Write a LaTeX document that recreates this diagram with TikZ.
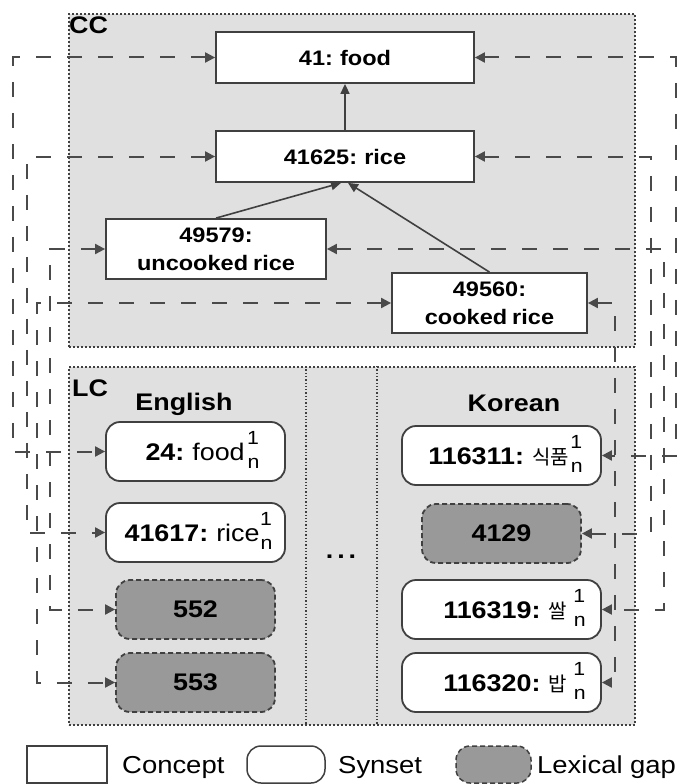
\documentclass[tikz,border=0pt]{standalone}
\usepackage{fontspec}
\setmainfont{Liberation Sans}[FakeStretch=1.12]
\newfontfamily\kofont{Noto Sans CJK KR}
\usetikzlibrary{arrows.meta}
\definecolor{bggray}{HTML}{E0E0E0}
\definecolor{gapgray}{HTML}{999999}
\definecolor{edgegray}{HTML}{404040}
\definecolor{mapgray}{HTML}{4A4A4A}
\newcommand{\sn}{\raisebox{-8pt}{\fontsize{19}{19}\selectfont n}\llap{\raisebox{16pt}{\fontsize{19}{19}\selectfont 1\kern0.5pt}}}
\newcommand{\ko}[1]{{\kofont\fontsize{20}{20}\selectfont #1}}
\newcommand{\spA}{\spaceskip=5pt plus 1pt minus 1pt\relax}
\newcommand{\spB}{\spaceskip=5.5pt plus 1pt minus 1pt\relax}
\begin{document}
\begin{tikzpicture}[x=1pt,y=-1pt,
  region/.style={draw=edgegray, fill=bggray, line width=1.6pt, dash pattern=on 2pt off 2pt, inner sep=0pt, anchor=north west},
  divider/.style={draw=edgegray, line width=1.3pt, dash pattern=on 1.3pt off 2pt},
  title/.style={font=\fontsize{24}{24}\selectfont\bfseries, inner sep=0pt},
  concept/.style={draw=edgegray, fill=white, line width=1.8pt, inner sep=0pt, align=center, font=\fontsize{21}{28}\selectfont\bfseries\spA},
  synset/.style={draw=edgegray, fill=white, line width=1.8pt, rounded corners=14pt, inner sep=0pt, text height=26pt, text depth=9pt, font=\fontsize{24}{24}\selectfont\spB},
  gap/.style={draw=edgegray, fill=gapgray, line width=1.8pt, dash pattern=on 5pt off 3pt, rounded corners=14pt, inner sep=0pt, font=\fontsize{24}{24}\selectfont\bfseries},
  legend/.style={font=\fontsize{24.5}{24.5}\selectfont, inner sep=0pt, anchor=base west},
  isa/.style={draw=edgegray, line width=1.6pt, -{Triangle[length=10pt,width=9pt]}},
  map/.style={draw=mapgray, line width=2pt, dash pattern=on 15pt off 16pt, {Triangle[length=10pt,width=10pt]}-{Triangle[length=10pt,width=10pt]}},
]
\useasboundingbox (0,0) rectangle (678,784);

% regions
\node[region, minimum width=566pt, minimum height=333pt] (cc) at (68,13) {};
\node[region, minimum width=566pt, minimum height=358pt] (lc) at (68,366) {};
\coordinate (d1) at (306,366);
\coordinate (d2) at (377,366);
\draw[divider] (d1) -- (d1 |- lc.south);
\draw[divider] (d2) -- (d2 |- lc.south);
\node[title, anchor=north west] (cclab) at (69,17) {CC};
\node[title, anchor=north west] (lclab) at (72,380) {LC};
\node[title, anchor=base] (eng) at (184,410) {English};
\node[title, anchor=base] (kor) at (514,411) {Korean};
\node[title, anchor=base] (dots) at (341,558) {.\kern4pt.\kern4pt.};

% concepts
\node[concept, minimum width=258pt, minimum height=51pt] (food) at (345,57.5) {41: food};
\node[concept, minimum width=258pt, minimum height=51pt] (rice) at (345,156.5) {41625: rice};
\node[concept, minimum width=220pt, minimum height=60pt] (unc) at (216,249) {49579:\\uncooked rice};
\node[concept, minimum width=195pt, minimum height=60pt] (cook) at (489.5,303) {49560:\\cooked rice};

\draw[isa] (rice.north) -- (food.south);
\draw[isa] (unc.north) -- ([xshift=-4pt]rice.south);
\draw[isa] (cook.north) -- ([xshift=3pt]rice.south);

% synsets
\node[synset, minimum width=179pt, minimum height=59pt] (en24) at (195.5,451.5) {\hspace{14pt}\textbf{24:} food\kern3pt\sn};
\node[synset, minimum width=179pt, minimum height=59pt] (en41617) at (195.5,532.5) {\hspace{6pt}\textbf{41617:} rice\kern1pt\sn};
\node[gap, minimum width=159pt, minimum height=59pt] (en552) at (195.5,609.5) {552};
\node[gap, minimum width=159pt, minimum height=59pt] (en553) at (195.5,682.5) {553};
\node[synset, minimum width=199pt, minimum height=59pt] (ko116311) at (501.5,455.5) {\hspace{8pt}\textbf{116311:} \ko{식품}\kern2pt\sn};
\node[gap, minimum width=159pt, minimum height=59pt] (ko4129) at (501.5,533.5) {4129};
\node[synset, minimum width=199pt, minimum height=59pt] (ko116319) at (501.5,609.5) {\hspace{26pt}\textbf{116319:} \ko{쌀}\kern7pt\sn};
\node[synset, minimum width=199pt, minimum height=59pt] (ko116320) at (501.5,682.5) {\hspace{26pt}\textbf{116320:} \ko{밥}\kern7pt\sn};

% mapping columns
\coordinate (cL1) at (13,0);
\coordinate (cL2) at (27,0);
\coordinate (cL3) at (37,0);
\coordinate (cL4) at (50,0);
\coordinate (cR1) at (676,0);
\coordinate (cR2) at (651,0);
\coordinate (cR3) at (664,0);
\coordinate (cR4) at (615,0);

% English mappings
\draw[map] (food.west) -- (food.west -| cL1) -- (en24.west -| cL1) -- (en24.west);
\draw[map] (rice.west) -- (rice.west -| cL2) -- (en41617.west -| cL2) -- (en41617.west);
\draw[map] (unc.west) -- (unc.west -| cL4) -- (en552.west -| cL4) -- (en552.west);
\draw[map] (cook.west) -- (cook.west -| cL3) -- (en553.west -| cL3) -- (en553.west);
% Korean mappings
\draw[map] (food.east) -- (food.east -| cR1) -- (ko116311.east -| cR1) -- (ko116311.east);
\draw[map] (rice.east) -- (rice.east -| cR2) -- (ko4129.east -| cR2) -- (ko4129.east);
\draw[map] (unc.east) -- (unc.east -| cR3) -- (ko116319.east -| cR3) -- (ko116319.east);
\draw[map] (cook.east) -- (cook.east -| cR4) -- (ko116320.east -| cR4) -- (ko116320.east);

% legend
\node[draw=edgegray, line width=1.5pt, fill=white, minimum width=80pt, minimum height=37pt, inner sep=0pt] (lgc) at (67,764.5) {};
\node[legend] (lgct) at (122,773) {Concept};
\node[draw=edgegray, line width=1.5pt, fill=white, rounded corners=14pt, minimum width=78pt, minimum height=37pt, inner sep=0pt] (lgs) at (286,764.5) {};
\node[legend] (lgst) at (338,773) {Synset};
\node[draw=edgegray, line width=1.5pt, fill=gapgray, dash pattern=on 5pt off 3pt, rounded corners=14pt, minimum width=75pt, minimum height=37pt, inner sep=0pt] (lgg) at (493.5,764.5) {};
\node[legend] (lggt) at (537,773) {Lexical gap};
\end{tikzpicture}
\end{document}
